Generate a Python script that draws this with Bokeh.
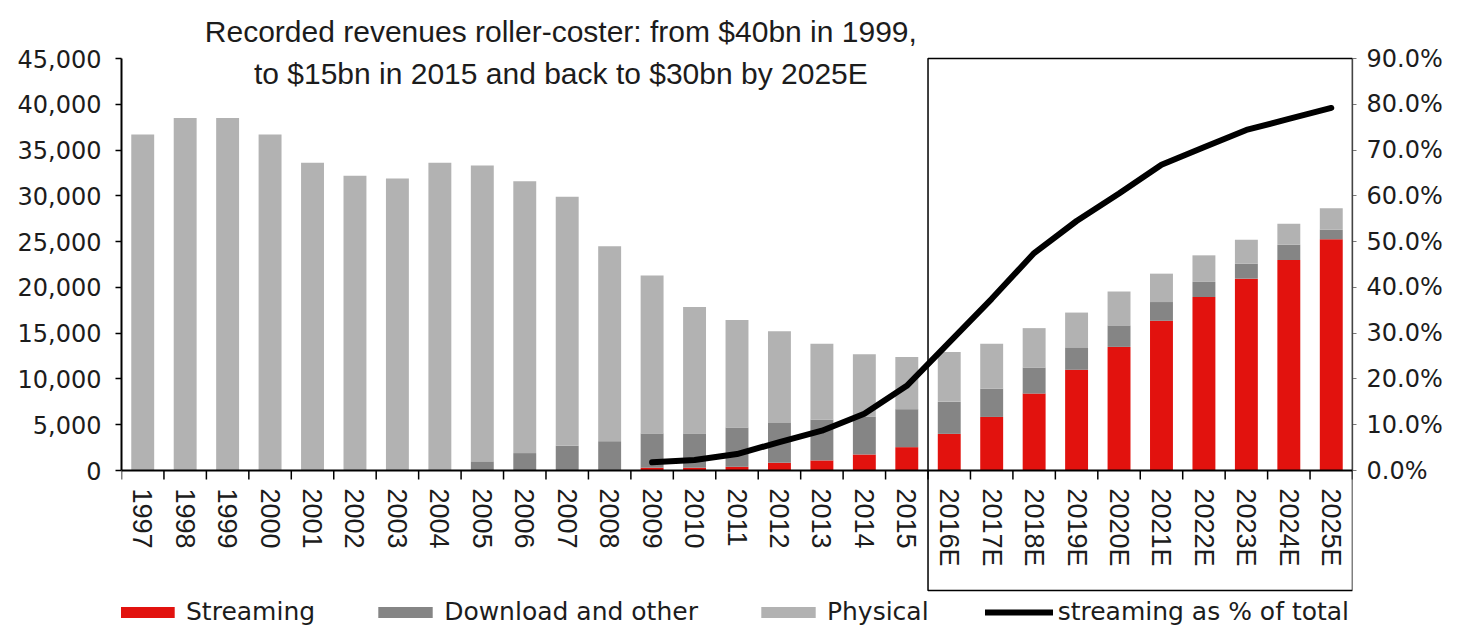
import math
from bokeh.plotting import figure
from bokeh.models import (ColumnDataSource, Range1d, LinearAxis, FixedTicker,
                          NumeralTickFormatter, Legend, LegendItem, Label,
                          BoxAnnotation, Span)
from bokeh.core.properties import value
from bokeh.embed import file_html
from bokeh.resources import INLINE

# ---------------- data (US$ m) ----------------
years = ["1997", "1998", "1999", "2000", "2001", "2002", "2003", "2004", "2005",
         "2006", "2007", "2008", "2009", "2010", "2011", "2012", "2013", "2014",
         "2015", "2016E", "2017E", "2018E", "2019E", "2020E", "2021E", "2022E",
         "2023E", "2024E", "2025E"]
streaming = [0, 0, 0, 0, 0, 0, 0, 0, 0,
             0, 0, 0, 300, 300, 400, 850, 1100, 1750,
             2550, 4000, 5850, 8400, 11000, 13500, 16350, 18950,
             20950, 23000, 25250]
download = [0, 0, 0, 0, 0, 0, 0, 0, 1000,
            1900, 2700, 3200, 3750, 3750, 4300, 4350, 4450, 4150,
            4150, 3500, 3100, 2850, 2450, 2350, 2050, 1650,
            1650, 1650, 1050]
physical = [36700, 38500, 38500, 36700, 33600, 32200, 31900, 33600, 32300,
            29700, 27200, 21300, 17250, 13800, 11750, 10000, 8300, 6800,
            5700, 5450, 4900, 4300, 3800, 3700, 3100, 2900,
            2600, 2300, 2350]
share_years = ["2009", "2010", "2011", "2012", "2013", "2014", "2015", "2016E",
               "2017E", "2018E", "2019E", "2020E", "2021E", "2022E", "2023E",
               "2024E", "2025E"]
share_pct = [1.8, 2.3, 3.6, 6.2, 8.7, 12.4, 18.5, 28.0,
             37.5, 47.5, 54.5, 60.5, 66.8, 70.6, 74.4,
             76.8, 79.2]
forecast_from = "2016E"

title_lines = ["Recorded revenues roller-coster: from $40bn in 1999,",
               "to $15bn in 2015 and back to $30bn by 2025E"]
legend_labels = ["Streaming", "Download and other", "Physical", "streaming as % of total"]
left_ticks = [0, 5000, 10000, 15000, 20000, 25000, 30000, 35000, 40000, 45000]
right_ticks = [0.0, 0.1, 0.2, 0.3, 0.4, 0.5, 0.6, 0.7, 0.8, 0.9]
LEFT_MAX = 45000
RIGHT_MAX = 0.9

# ---------------- styling / layout ----------------
RED = "#e2120e"
DARK = "#858585"
LIGHT = "#b2b2b2"
TXT = "#1c1c1c"
FONT_T = "Liberation Sans"
FONT_N = "DejaVu Sans"

W, H = 1458, 626
BORDER_L, BORDER_R = 121, 106
PX_ABOVE_ZERO = 470      # frame pixels above the value-axis baseline
PX_BELOW_ZERO = H - PX_ABOVE_ZERO
PX_SCALE = 412           # pixels for 0..LEFT_MAX
k = LEFT_MAX / PX_SCALE  # data units per pixel
Y_TOP = PX_ABOVE_ZERO * k
Y_BOT = -PX_BELOW_ZERO * k

xpos = [i + 0.5 for i in range(len(years))]
bounds_x = list(range(len(years) + 1))
src = ColumnDataSource(dict(x=xpos, year=years, streaming=streaming,
                            download=download, physical=physical))
line_x = [years.index(y) + 0.5 for y in share_years]
line_src = ColumnDataSource(dict(x=line_x, y=[v / 100.0 for v in share_pct]))

p = figure(width=W, height=H, output_backend="svg", toolbar_location=None,
           x_range=Range1d(0, len(years)), y_range=Range1d(Y_BOT, Y_TOP),
           min_border_left=BORDER_L, min_border_right=BORDER_R, min_border_top=0,
           min_border_bottom=0, x_axis_location=None)
p.outline_line_color = None
p.xgrid.visible = False
p.ygrid.visible = False
p.background_fill_color = "white"
p.border_fill_color = "white"

bars = p.vbar_stack(["streaming", "download", "physical"], x="x", width=0.54,
                    color=[RED, DARK, LIGHT], line_color=None, source=src)

scale_r = RIGHT_MAX / LEFT_MAX
p.extra_y_ranges = {"pct": Range1d(Y_BOT * scale_r, Y_TOP * scale_r)}
ln = p.line("x", "y", source=line_src, y_range_name="pct", line_color="black",
            line_width=6, line_join="round", line_cap="round")

# category axis (baseline, boundary ticks, rotated labels)
p.add_layout(Span(location=0, dimension="width", line_color="black", line_width=2))
p.ray(x=bounds_x, y=0, length=9, length_units="screen", angle=-math.pi / 2,
      line_color="black", line_width=1.5)
p.text(x="x", y=0, text="year", source=src, angle=-math.pi / 2,
       text_align="left", text_baseline="middle", y_offset=18,
       text_font=value(FONT_T), text_font_size=value("27px"), text_color=TXT)

# left axis
ya = p.yaxis[0]
ya.bounds = (0, LEFT_MAX)
ya.ticker = FixedTicker(ticks=left_ticks)
ya.formatter = NumeralTickFormatter(format="0,0")
ya.major_tick_out = 6
ya.major_tick_in = 0
ya.minor_tick_out = 0
ya.minor_tick_in = 0
ya.major_tick_line_color = "black"
ya.major_tick_line_width = 1.5
ya.axis_line_color = "black"
ya.axis_line_width = 2
ya.major_label_standoff = 14
ya.major_label_text_font = FONT_N
ya.major_label_text_font_size = "24px"
ya.major_label_text_color = TXT

# right axis
ra = LinearAxis(y_range_name="pct", ticker=FixedTicker(ticks=right_ticks),
                formatter=NumeralTickFormatter(format="0.0%"), bounds=(0, RIGHT_MAX))
ra.major_tick_out = 4
ra.major_tick_in = 0
ra.minor_tick_out = 0
ra.minor_tick_in = 0
ra.major_tick_line_color = "#777777"
ra.axis_line_color = "#888888"
ra.axis_line_width = 1.5
ra.major_label_standoff = 10
ra.major_label_text_font = FONT_N
ra.major_label_text_font_size = "24px"
ra.major_label_text_color = TXT
p.add_layout(ra, "right")

# forecast box
box = BoxAnnotation(left=years.index(forecast_from), right=len(years),
                    top=LEFT_MAX, bottom=-120 * k,
                    fill_alpha=0, line_color="black", line_alpha=1.0, line_width=1.5)
p.add_layout(box)

# title
for txt, py in zip(title_lines, [31, 73]):
    p.add_layout(Label(x=10.35, y=(PX_ABOVE_ZERO - py) * k, text=txt,
                       text_align="center", text_baseline="middle",
                       text_font=FONT_T, text_font_size="30px", text_color=TXT))

# legend
legend = Legend(items=[LegendItem(label=legend_labels[0], renderers=[bars[0]]),
                       LegendItem(label=legend_labels[1], renderers=[bars[1]]),
                       LegendItem(label=legend_labels[2], renderers=[bars[2]]),
                       LegendItem(label=legend_labels[3], renderers=[ln])],
                orientation="horizontal", location=(-8, 0))
legend.padding = 0
legend.margin = 0
legend.spacing = 56
legend.glyph_width = 68
legend.glyph_height = 14
legend.label_standoff = 5
legend.label_text_font = FONT_N
legend.label_text_font_size = "25px"
legend.label_text_color = TXT
legend.border_line_color = None
legend.background_fill_alpha = 0
p.add_layout(legend)

open("out.html", "w").write(file_html(p, INLINE))
